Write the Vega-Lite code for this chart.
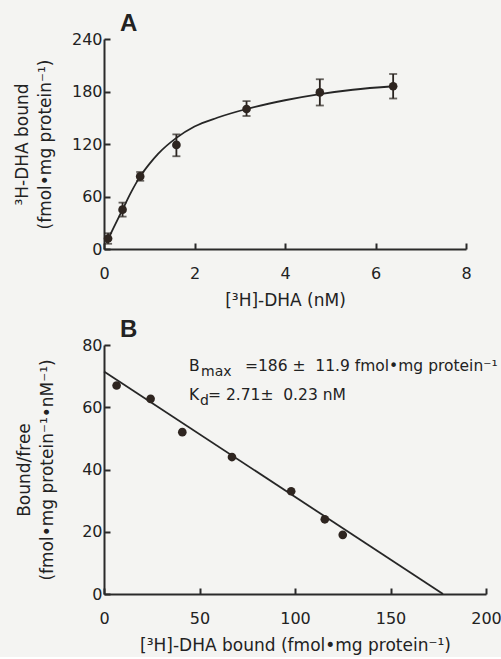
{
  "$schema": "https://vega.github.io/schema/vega-lite/v6.json",
  "background": "#f4f4f2",
  "padding": {"left": 13, "top": 12, "right": 4, "bottom": 4},
  "spacing": 10,
  "config": {
    "font": "DejaVu Sans",
    "view": {"stroke": null},
    "axis": {
      "grid": false,
      "domainColor": "#2a2a2a",
      "domainWidth": 2,
      "tickColor": "#2a2a2a",
      "tickWidth": 2,
      "tickSize": -6,
      "labelFontSize": 16,
      "labelColor": "#222222",
      "labelFlush": false,
      "labelOverlap": false,
      "titleFontSize": 17,
      "titleFontWeight": "normal",
      "titleColor": "#222222",
      "titleLineHeight": 23
    },
    "axisX": {"labelPadding": 22, "titlePadding": 11},
    "axisY": {"labelPadding": 8},
    "title": {"fontSize": 24, "fontWeight": "bold", "color": "#222222", "anchor": "start", "font": "Liberation Sans", "frame": "group", "baseline": "alphabetic", "offset": -5}
  },
  "datasets": {
    "satA": [
      {"conc": 0.09, "bound": 12, "lo": 6, "hi": 18},
      {"conc": 0.41, "bound": 45, "lo": 37, "hi": 53},
      {"conc": 0.8, "bound": 83, "lo": 78, "hi": 88},
      {"conc": 1.6, "bound": 119, "lo": 106, "hi": 131},
      {"conc": 3.15, "bound": 160, "lo": 152, "hi": 169},
      {"conc": 4.77, "bound": 179, "lo": 164, "hi": 194},
      {"conc": 6.39, "bound": 186, "lo": 172, "hi": 200}
    ],
    "curveA": [
      {"conc": 0.05, "bound": 7},
      {"conc": 0.2, "bound": 23},
      {"conc": 0.4, "bound": 44},
      {"conc": 0.6, "bound": 65},
      {"conc": 0.8, "bound": 83},
      {"conc": 1.0, "bound": 97},
      {"conc": 1.2, "bound": 109},
      {"conc": 1.6, "bound": 127},
      {"conc": 2.0, "bound": 140},
      {"conc": 2.5, "bound": 150},
      {"conc": 3.15, "bound": 160},
      {"conc": 4.0, "bound": 170},
      {"conc": 4.77, "bound": 177},
      {"conc": 5.5, "bound": 182},
      {"conc": 6.4, "bound": 186}
    ],
    "scatB": [
      {"bound": 6.6, "ratio": 67},
      {"bound": 24.4, "ratio": 62.7},
      {"bound": 41, "ratio": 52},
      {"bound": 67, "ratio": 44},
      {"bound": 98, "ratio": 33},
      {"bound": 115.6, "ratio": 24},
      {"bound": 125, "ratio": 19}
    ],
    "lineB": [
      {"bound": 0, "ratio": 71.5},
      {"bound": 177.5, "ratio": 0}
    ],
    "one": [{}]
  },
  "vconcat": [
    {
      "width": 362,
      "height": 210,
      "title": {"text": "A", "dx": 16},
      "layer": [
        {
          "data": {"name": "curveA"},
          "mark": {"type": "line", "interpolate": "monotone", "color": "#262626", "strokeWidth": 1.8},
          "encoding": {
            "x": {"field": "conc", "type": "quantitative", "title": "[³H]-DHA (nM)", "scale": {"domain": [0, 8], "nice": false},
                  "axis": {"values": [0, 2, 4, 6, 8]}},
            "y": {"field": "bound", "type": "quantitative", "title": ["³H-DHA bound", "(fmol•mg protein⁻¹)"], "scale": {"domain": [0, 240], "nice": false},
                  "axis": {"values": [0, 60, 120, 180, 240], "titlePadding": 17}}
          }
        },
        {
          "data": {"name": "satA"},
          "mark": {"type": "errorbar", "ticks": {"size": 8, "color": "#2a2420", "thickness": 1.8}, "rule": {"strokeWidth": 1.8, "color": "#2a2420"}},
          "encoding": {
            "x": {"field": "conc", "type": "quantitative", "title": "[³H]-DHA (nM)"},
            "y": {"field": "lo", "type": "quantitative", "title": ["³H-DHA bound", "(fmol•mg protein⁻¹)"]},
            "y2": {"field": "hi"}
          }
        },
        {
          "data": {"name": "satA"},
          "mark": {"type": "point", "filled": true, "size": 75, "color": "#2e2520", "opacity": 1},
          "encoding": {
            "x": {"field": "conc", "type": "quantitative", "title": "[³H]-DHA (nM)"},
            "y": {"field": "bound", "type": "quantitative", "title": ["³H-DHA bound", "(fmol•mg protein⁻¹)"]}
          }
        }
      ]
    },
    {
      "width": 382,
      "height": 249,
      "title": {"text": "B", "dx": 16},
      "layer": [
        {
          "data": {"name": "lineB"},
          "mark": {"type": "line", "color": "#262626", "strokeWidth": 1.8},
          "encoding": {
            "x": {"field": "bound", "type": "quantitative", "title": "[³H]-DHA bound (fmol•mg protein⁻¹)", "scale": {"domain": [0, 200], "nice": false},
                  "axis": {"values": [0, 50, 100, 150, 200]}},
            "y": {"field": "ratio", "type": "quantitative", "title": ["Bound/free", "(fmol•mg protein⁻¹•nM⁻¹)"], "scale": {"domain": [0, 80], "nice": false},
                  "axis": {"values": [0, 20, 40, 60, 80], "titlePadding": 25}}
          }
        },
        {
          "data": {"name": "scatB"},
          "mark": {"type": "point", "filled": true, "size": 75, "color": "#2e2520", "opacity": 1},
          "encoding": {
            "x": {"field": "bound", "type": "quantitative", "title": "[³H]-DHA bound (fmol•mg protein⁻¹)"},
            "y": {"field": "ratio", "type": "quantitative", "title": ["Bound/free", "(fmol•mg protein⁻¹•nM⁻¹)"]}
          }
        },
        {
          "data": {"name": "one"},
          "mark": {"type": "text", "text": "B", "align": "left", "baseline": "alphabetic", "fontSize": 15.5, "color": "#222222"},
          "encoding": {"x": {"datum": 44.5}, "y": {"datum": 71.7}}
        },
        {
          "data": {"name": "one"},
          "mark": {"type": "text", "text": "max", "align": "left", "baseline": "alphabetic", "fontSize": 14, "dx": 12, "dy": 5, "color": "#222222"},
          "encoding": {"x": {"datum": 44.5}, "y": {"datum": 71.7}}
        },
        {
          "data": {"name": "one"},
          "mark": {"type": "text", "text": "=186 ±\u00a0\u00a011.9 fmol•mg protein⁻¹", "align": "left", "baseline": "alphabetic", "fontSize": 15.5, "dx": 56, "color": "#222222"},
          "encoding": {"x": {"datum": 44.5}, "y": {"datum": 71.7}}
        },
        {
          "data": {"name": "one"},
          "mark": {"type": "text", "text": "K", "align": "left", "baseline": "alphabetic", "fontSize": 15.5, "color": "#222222"},
          "encoding": {"x": {"datum": 44.5}, "y": {"datum": 62.4}}
        },
        {
          "data": {"name": "one"},
          "mark": {"type": "text", "text": "d", "align": "left", "baseline": "alphabetic", "fontSize": 14, "dx": 11, "dy": 5, "color": "#222222"},
          "encoding": {"x": {"datum": 44.5}, "y": {"datum": 62.4}}
        },
        {
          "data": {"name": "one"},
          "mark": {"type": "text", "text": "=\u00a02.71±\u00a0\u00a00.23 nM", "align": "left", "baseline": "alphabetic", "fontSize": 15.5, "dx": 19, "color": "#222222"},
          "encoding": {"x": {"datum": 44.5}, "y": {"datum": 62.4}}
        }
      ]
    }
  ]
}
